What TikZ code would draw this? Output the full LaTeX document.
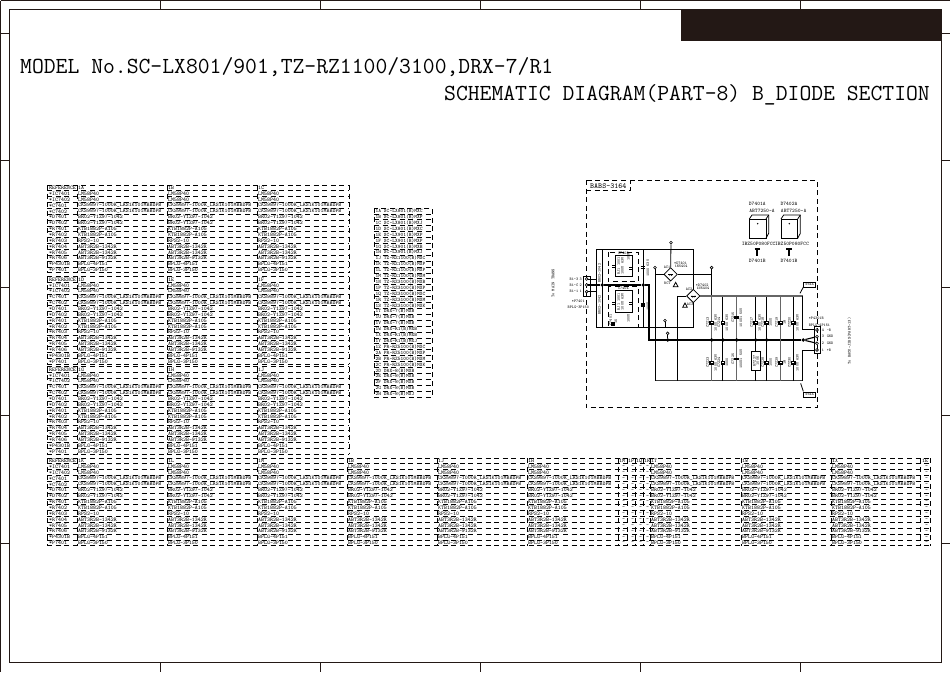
\documentclass[tikz,border=0pt]{standalone}
\usetikzlibrary{shapes.geometric}
\definecolor{inkblack}{HTML}{231815}
\tikzset{
  frameline/.style={line width=0.9pt, color=inkblack},
  tblline/.style={line width=0.8pt, dash pattern=on 5pt off 3.6pt},
  celltxt/.style={anchor=west, inner sep=0, font=\ttfamily\fontsize{5.6}{6}\selectfont},
  titletxt/.style={inner sep=0, font=\ttfamily\fontsize{23}{24}\selectfont},
  wire/.style={line width=0.8pt},
  bus/.style={line width=1.9pt},
  rail/.style={line width=1.2pt, color=black!60},
  dotj/.style={circle, fill=black, inner sep=0, minimum size=3.8pt},
  pinc/.style={circle, draw, fill=white, inner sep=0, minimum size=2.8pt, line width=0.6pt},
  bridge/.style={diamond, draw, fill=white, inner sep=0, minimum size=13.5pt, line width=0.8pt},
  schtxt/.style={inner sep=0, font=\ttfamily\fontsize{4}{4.5}\selectfont},
  boardtxt/.style={inner sep=0, font=\ttfamily\fontsize{5.3}{6}\selectfont},
  vtxt/.style={schtxt, rotate=90},
}
\newcommand{\partrows}{REFERENCE/ , *IC7401/LM58P40, *IC7402/LM58P40,
  *C7401/CKS9897-1000R\_LRS1K101MBBDPB, *C7402/CKS9897-1000R\_LRS1K101MBBDPB,
  *D7401/BR02-Y1Z97-1042, *D7402/BR02-Y1Z97-1042, *R7401/KTB1882P-A105, *R7402/KTB1882P-A105,
  *R7403/RPS2-10, *R7404/ABT3R2B-1342R, *R7405/ABT3R2B-1342R, *R7406/ABT3R2B-9132R,
  *P4301B/BPLG-4P151, *P7401/BPLG-3P150}
% table rows: name, top, right edge, x of the columns
\newcommand{\parttable}[4]{
  \foreach \r in {0,...,15} {
    \draw[tblline] (47,#2+\r*5.85) -- (#3,#2+\r*5.85);
  }
  \foreach \xx in {47,77,#4,#3} {
    \draw[tblline] (\xx,#2) -- (\xx,#2+87.75);
  }
  \foreach \lab/\val [count=\r from 0] in \partrows {
    \pgfmathsetmacro\yy{#2+\r*5.85+3}
    \node[celltxt] (#1-l\r) at (49,\yy) {\lab};
    \foreach \xx [count=\c] in {77,#4} {
      \node[celltxt] (#1-\r-\c) at (\xx+1,\yy) {\val};
    }
  }
}
\begin{document}
\begin{tikzpicture}[x=1pt,y=-1pt]
\useasboundingbox (0,0) rectangle (950,672);

% sheet frame
\fill[inkblack] (681,9) rectangle (941,41);
\draw[frameline] (0.5,0.5) -- (949.5,0.5);
\draw[frameline] (0.5,0.5) -- (0.5,671.5);
\draw[frameline] (9.5,9.5) rectangle (941,662);
\foreach \xx in {160,320,480,640,800} {
  \draw[frameline] (\xx,0.5) -- (\xx,9.5);
  \draw[frameline] (\xx,662) -- (\xx,671.5);
}
\foreach \yy in {33,160,287,415,543} {
  \draw[frameline] (0.5,\yy) -- (9.5,\yy);
  \draw[frameline] (941,\yy) -- (949.5,\yy);
}

% titles
\node[titletxt, anchor=base west] (model) at (20,73) {MODEL No.SC-LX801/901,TZ-RZ1100/3100,DRX-7/R1};
\node[titletxt, anchor=base east] (sheet) at (930,100) {SCHEMATIC DIAGRAM(PART-8) B\_DIODE SECTION};

% left tables
\parttable{ta}{185}{349}{167,257}
\parttable{tb}{276.5}{349}{167,257}
\parttable{tc}{366.5}{349}{167,257}
\foreach \nm/\ca/\cb/\cc/\yy in {ta/1A/1B/1C/188, tb/1D/1E/1F/279.5, tc/1G/1H/1J/369.5} {
  \node[celltxt] (\nm-h1) at (78,\yy) {\ca};
  \node[celltxt] (\nm-h2) at (168,\yy) {\cb};
  \node[celltxt] (\nm-h3) at (258,\yy) {\cc};
}

% bottom table
\parttable{td}{458}{930}{167,257,347,437,527,650,741,831}
\foreach \xx in {618,627,635,643,920} {
  \draw[tblline] (\xx,458) -- (\xx,545.75);
}
\foreach \cx/\ct [count=\c] in {78/1K,168/1L,258/1M,348/1B,438/1J,528/1H,619/1M,628/1P,636/1Q,644/1R,651/1T,742/1W,832/1X,922/1E} {
  \node[celltxt] (td-h\c) at (\cx,461) {\ct};
}
\foreach \cx [count=\c] in {622,631,639,646,925} {
  \foreach \r in {1,...,14} {
    \node[celltxt] (td-n\c-\r) at (\cx,461+\r*5.85) {-};
  }
}

% model list
\draw[tblline] (374,208) rectangle (432,397);
\foreach \r in {1,...,31} {
  \draw[tblline] (374,208+\r*5.906) -- (432,208+\r*5.906);
}
\foreach \lab [count=\r from 0] in {1A SC-LX801(B)MXC,1B SC-LX801(B)MXP,1C SC-LX801(B)MXJ,1D SC-LX801(B)MXC,
  1E SC-LX901(B)MXP,1F SC-LX901(B)MXP,1G SC-LX901(B)MXB,1H SC-LX901(B)MXJ,
  1J TZ-RZ1100(B)MXC,1K TZ-RZ1100(B)MXP,1L TZ-RZ1100(B)MXP,1M TZ-RZ1100(B)MXM,
  1N TZ-RZ3100(B)MXB,1P TZ-RZ3100(B)MXP,1Q TZ-RZ3100(B)MXC,1R TZ-RZ3100(B)MXM,
  1S TZ-RZ3100(B)MXK,1T DRX-7(B)MXB,1U DRX-7(B)MXB,1V DRX-7(B)MXB,
  1W DRX-R1(B)MXB,1X DRX-R1(B)MXB,1Y DRX-R1(B)MXJ,1Z PR-RZ5100(B)MXC,
  2A PR-RZ5100(B)MXP,2B PR-RZ5100(B)MXM,2C PR-RZ5100(B)MXK,2D DRX-8(B)MXB,
  2E DRX-8(B)MXB,2F DRX-8(B)MXB,2G DRX-8(B)MXB,2H DRX-8(B)MXJ} {
  \node[celltxt, font=\ttfamily\fontsize{5.2}{6}\selectfont] (ml\r) at (375.5,208+\r*5.906+3) {\lab};
}

% schematic, in a grid three times finer than the page
\begin{scope}[shift={(570,170)},x=0.3333pt,y=-0.3333pt]
% board outline
\draw[tblline, line width=0.7pt] (48,30) rectangle (742,712);
\draw[tblline, line width=0.7pt] (48,62) -- (182,62) -- (182,30);
\node[inner sep=0, font=\ttfamily\fontsize{7.6}{8}\selectfont] (board) at (115,48) {BABS-3164};

% heat sinks and screws
\foreach \nm/\xx/\ta/\tb in {sa/538/D7401A/D7401B, sb/633/D7402A/D7401B} {
  \draw[wire, line width=0.9pt] (\xx,147) rectangle (\xx+50,205);
  \draw[wire] (\xx,147) -- (\xx+8,135) -- (\xx+58,135) -- (\xx+58,190) -- (\xx+50,205);
  \draw[wire] (\xx+50,147) -- (\xx+58,135);
  \fill (\xx+25,161) circle (0.8pt);
  \node[boardtxt] (\nm-a) at (\xx+24,102) {\ta};
  \node[boardtxt] (\nm-b) at (\xx+38,124) {ABT7250-A};
  \node[boardtxt] (\nm-c) at (\xx+24,274) {\tb};
  \draw[line width=1.4pt] (\xx+16,237) -- (\xx+32,237);
  \draw[line width=1.8pt] (\xx+24,237) -- (\xx+24,258);
}
\node[boardtxt] (screwa) at (566,222) {IBZ50P080FCC};
\node[boardtxt] (screwb) at (666,222) {IBZ50P080FCC};

% input connector
\node[draw, minimum width=7.3pt, minimum height=19.3pt, inner sep=0, line width=0.9pt] (p7401) at (51,349) {};
\foreach \nm/\yy/\pn/\lb in {pa/327/3/B1-3, pb/345/2/B1-C, pc/365/1/B1-1} {
  \node[pinc] (\nm) at (50,\yy) {};
  \node[schtxt, anchor=east] (\nm-n) at (36,\yy) {\pn};
  \node[schtxt, anchor=east] (\nm-l) at (25,\yy) {\lb};
}
\node[schtxt] (p7401a) at (25,395) {*P7401};
\node[schtxt] (p7401b) at (25,413) {BPLG-3P150};
\node[vtxt, font=\ttfamily\fontsize{4.2}{5}\selectfont] (tomain) at (-51,340) {To MAIN TRANS};

% power stage
\coordinate (mtl) at (78,238);
\coordinate (mbr) at (370,472);
\draw[wire, line width=0.9pt] (mtl) rectangle (mbr);
\draw[wire] (pa) -- (78,327);
\draw[wire] (pc) -- (78,365);
\draw[wire, line width=1.2pt] (97,238) -- (97,472);
\draw[wire, line width=1.2pt] (220,238) -- (220,472);
\draw[tblline, line width=0.7pt] (115,246) rectangle (204,335);
\draw[tblline, line width=0.7pt] (115,350) rectangle (204,472);
\draw[wire] (135,257) rectangle (188,318);
\draw[wire] (135,362) rectangle (188,428);
\foreach \xx/\yy in {132/290, 183/296, 132/400, 183/400, 218/292, 218/405, 128/462} {
  \draw[line width=1.1pt] (\xx-6,\yy-3) -- (\xx+6,\yy-3);
  \draw[line width=1.1pt] (\xx-6,\yy+3) -- (\xx+6,\yy+3);
}
\foreach \xx/\yy/\lb in {88/310/BR02-1042, 88/405/BR02-1042, 146/288/RJ1 1001, 157/288/100U 63V, 146/395/RJ1 1001, 157/395/100U 63V,
  175/260/100U, 175/445/100U, 234/295/1000 63V, 234/410/100U, 122/450/C7401, 138/455/1K} {
  \node[vtxt] (lb\xx-\yy) at (\xx,\yy) {\lb};
}
\node[schtxt] (ref1) at (160,250) {C7403};
\node[schtxt] (ref2) at (160,354) {C7404};

% bus
\node[dotj] (ja) at (97,345) {};
\node[dotj] (jb) at (220,345) {};
\coordinate (bendb) at (237,345);
\coordinate (busl) at (237,510);
\node[dotj] (busr) at (700,510) {};
\draw[bus] (pb) -- (ja) -- (jb) -- (bendb) -- (busl) -- (busr);

% rails and branches
\coordinate (rl) at (255,632);
\coordinate (rr) at (698,632);
\draw[wire, line width=1pt, black!75] (rl) -- (rr);
\foreach \nm/\xx/\sty in {ba/425/rail, bb/459/wire, bc/500/rail, bd/557/wire, be/590/wire, bf/632/rail, bg/670/wire} {
  \coordinate (\nm-t) at (\xx,378);
  \coordinate (\nm-b) at (\xx,632);
  \draw[\sty, line width=1pt] (\nm-t) -- (\nm-b);
}
\foreach \nm/\xx in {ba/425, bb/459, bc/500, bd/557, be/590} {
  \node[dotj] (\nm-j) at (\xx,510) {};
}

% capacitors on the branches
\foreach \xx/\yy/\ra/\rb in {425/458/C7Z13/100U 63V, 459/458/C7Z14/100U 63V, 557/458/C7Z17/100U 63V, 590/458/C7Z18/100U,
  632/458/C7Z19/1M, 670/458/C7Z20/100U 63V, 425/578/C7Z23/100U 63V, 459/578/C7Z24/1000, 590/578/C7Z28/1000, 632/578/C7Z29/1M, 670/578/C7Z30/100U 63V} {
  \draw[line width=1.1pt, fill=white] (\xx-5,\yy-4) rectangle (\xx+5,\yy+4);
  \node[vtxt] (n\xx-\yy) at (\xx-12,\yy) {\ra};
  \node[vtxt] (m\xx-\yy) at (\xx+12,\yy) {\rb};
}
\foreach \xx/\yy/\ra/\rb in {500/443/C7Z15/100U1 50V, 500/567/C7Z25/100U1 50V} {
  \draw[line width=1.1pt] (\xx-7,\yy-2) -- (\xx+7,\yy-2);
  \draw[line width=1.1pt] (\xx-7,\yy+2) -- (\xx+7,\yy+2);
  \node[vtxt] (n\xx-\yy) at (\xx-11,\yy) {\ra};
  \node[vtxt] (m\xx-\yy) at (\xx+13,\yy) {\rb};
}
\node[draw, fill=white, line width=0.9pt, minimum width=9pt, minimum height=18.5pt, inner sep=0] (r7z) at (558,573) {};
\node[vtxt] (r7za) at (553,573) {R7Z27};
\node[vtxt] (r7zb) at (563,573) {100K};

% diode bridges
\node[bridge] (d7401) at (302,313) {};
\node[bridge] (d7402) at (370,378) {};
\node[pinc] (ptop) at (303,218) {};
\node[pinc] (pl) at (255,293) {};
\node[pinc] (pr) at (425,293) {};
\node[pinc] (pg) at (285,452) {};
\node[pinc] (pb2) at (293,490) {};
\node[dotj] (jg) at (293,510) {};
\coordinate (dl) at (255,313);
\coordinate (dr) at (425,313);
\coordinate (dm) at (322,378);
\draw[wire] (ptop) -- (d7401.north);
\draw[wire] (d7401.west) -- (dl);
\draw[wire] (pl) -- (rl);
\draw[wire] (d7401.east) -- (dr);
\draw[wire] (pr) -- (dr);
\draw[wire] (d7402.north) -- (370,313);
\draw[wire] (dr) -- (ba-t);
\draw[wire] (d7402.west) -- (dm);
\draw[wire] (dm) -- (322,632);
\draw[rail] (d7402.east) -- (698,378);
\draw[wire] (pg) -- (285,472);
\draw[wire] (pb2) -- (jg);
\foreach \nm in {d7401, d7402} {
  \fill (\nm.center) ++(-1.5,0) -- ++(-6,0) -- ++(6,5) -- cycle;
  \fill (\nm.center) ++(1.5,0) -- ++(6,0) -- ++(-6,5) -- cycle;
  \fill (\nm.center) ++(-8,-1) rectangle ++(16,2);
}
\foreach \xx/\yy in {317/350, 345/412} {
  \draw[wire] (\xx-7,\yy) -- (\xx+7,\yy) -- (\xx,\yy-13) -- cycle;
}
\node[schtxt] (ac1) at (291,291) {AC1};
\node[schtxt] (rct) at (292,340) {RCT};
\node[schtxt, anchor=west] (d1a) at (312,279) {*D7401};
\node[schtxt, anchor=west] (d1b) at (314,290) {1N5404};
\node[schtxt] (ac2) at (357,357) {AC2};
\node[schtxt] (ac3) at (360,403) {AC3};
\node[schtxt, anchor=west] (d2a) at (377,345) {*D7402};
\node[schtxt, anchor=west] (d2b) at (379,356) {1N5404};

% output connector
\node[draw, minimum width=6pt, minimum height=27.5pt, inner sep=0, line width=0.9pt] (p4301) at (741,510) {};
\foreach \nm/\yy/\pn/\lb in {qa/480/4/-B, qb/500/3/GND, qc/520/2/GND, qd/540/1/+B} {
  \node[pinc] (\nm) at (741,\yy) {};
  \node[schtxt, anchor=west] (\nm-n) at (755,\yy) {\pn};
  \node[schtxt, anchor=west] (\nm-l) at (770,\yy) {\lb};
}
\node[schtxt, anchor=west] (p4301a) at (716,445) {*P4301B};
\node[schtxt, anchor=west] (p4301b) at (716,465) {BPLG-4P151};
\draw[wire, line width=1pt] (698,378) -- (698,480) -- (qa);
\draw[bus, line width=1.1pt] (busr) -- (qb);
\draw[bus, line width=1.1pt] (busr) -- (qc);
\draw[wire] (rr) -- (698,540) -- (qd);
\node[vtxt, font=\ttfamily\fontsize{4.2}{5}\selectfont] (toback) at (838,513) {To BACK-JIBS(PART-13)};

% tags
\node[draw, inner sep=0, minimum width=12pt, minimum height=5pt, line width=0.6pt, schtxt] (tagt) at (719,343) {x64X};
\node[draw, inner sep=0, minimum width=12pt, minimum height=5pt, line width=0.6pt, schtxt] (tagb) at (719,673) {x64X};
\draw[wire] (tagt.south west) -- (690,370);
\draw[wire] (tagb.north west) -- (692,640);
\end{scope}
\end{tikzpicture}
\end{document}
